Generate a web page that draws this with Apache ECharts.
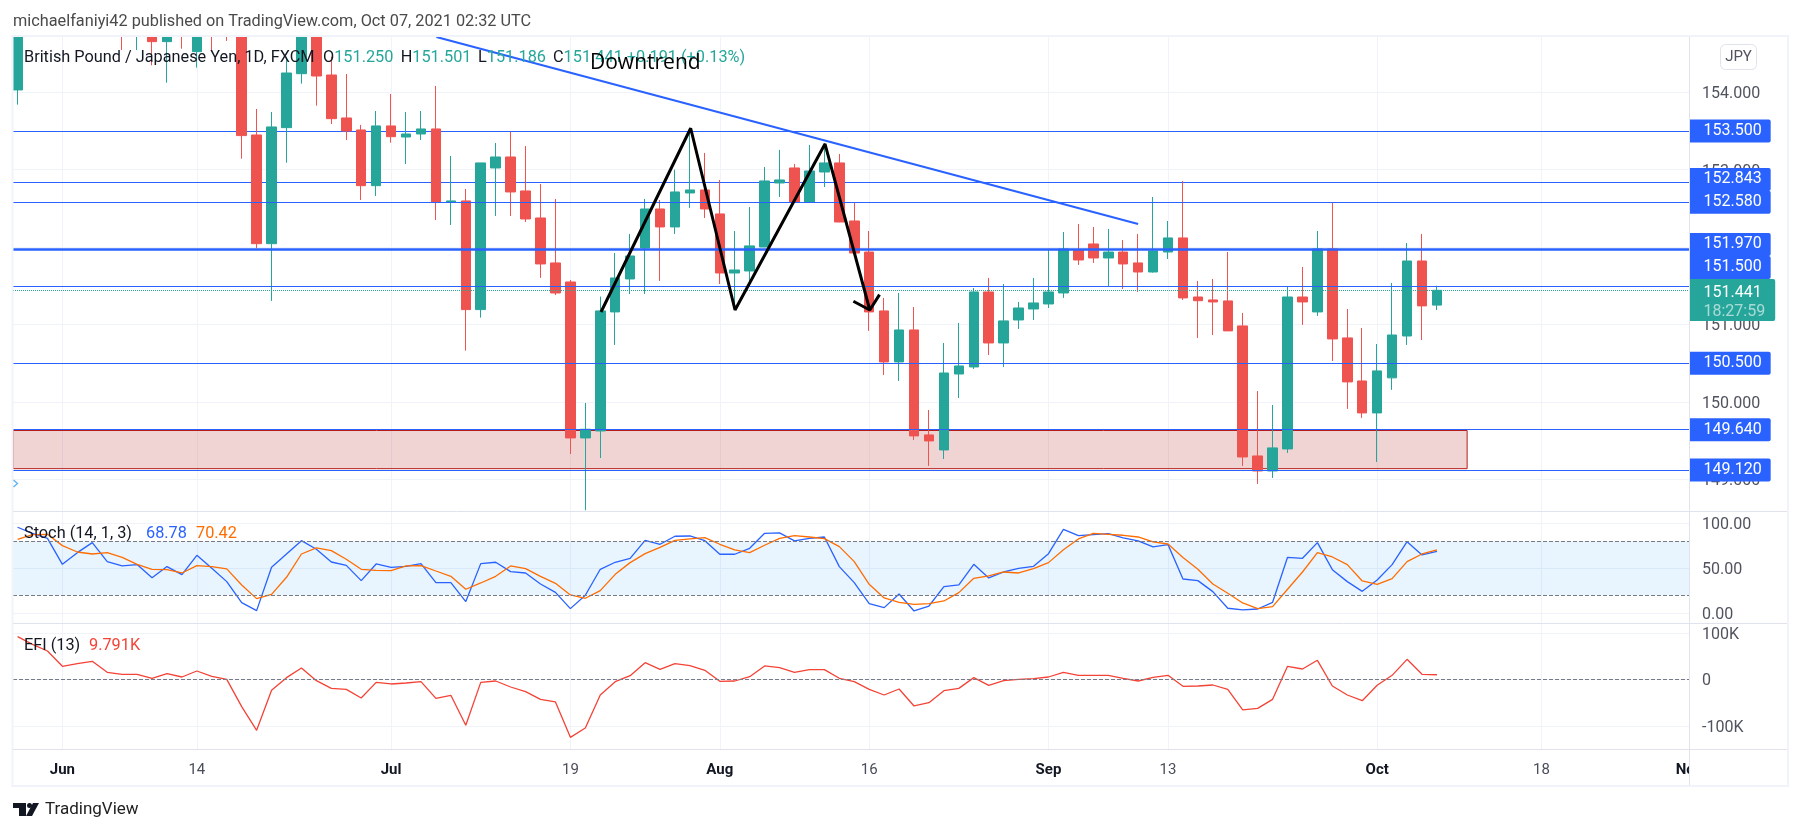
<!DOCTYPE html>
<html>
<head>
<meta charset="utf-8">
<style>html,body{margin:0;background:#fff}</style>
</head>
<body>
<div id="main" style="width:1801px;height:833px;"></div>
<script src="https://cdn.jsdelivr.net/npm/echarts@6/dist/echarts.min.js"></script>
<script>
// daily bars, index 0 = 27 May 2021, last = 7 Oct 2021
var opens = [154.03,155.1,155.0,155.1,155.0,155.1,155.0,155.1,154.9,154.85,
154.654,154.95,154.525,154.95,154.95,155.0,153.448,152.044,153.543,154.24,
155.0,154.223,153.668,153.513,152.793,153.565,153.422,153.461,153.526,152.583,
152.596,151.192,153.022,153.164,152.725,152.376,151.795,151.549,149.534,149.624,
151.162,151.588,151.988,152.492,152.26,152.699,152.738,152.428,151.665,151.691,
152.001,152.828,153.022,152.583,152.97,153.087,152.337,151.936,151.175,150.516,
150.929,149.573,149.379,150.36,150.451,151.42,150.761,151.058,151.2,151.265,
151.407,151.962,152.04,151.859,151.936,151.795,151.678,151.936,152.118,151.355,
151.317,151.304,150.981,149.301,149.107,149.392,151.355,151.162,151.975,150.826,
150.27,149.857,150.31,150.851,151.82,151.25];
var closes = [155.0,154.9,155.2,154.9,155.2,154.9,155.2,154.9,155.1,154.654,
154.85,154.8,154.9,154.8,154.8,153.44,152.044,153.552,154.249,155.0,
154.21,153.659,153.5,152.793,153.565,153.426,153.461,153.526,152.583,152.596,
151.192,153.087,153.164,152.712,152.363,151.782,151.407,149.534,149.646,151.175,
151.601,151.885,152.492,152.26,152.712,152.738,152.492,151.665,151.704,152.015,
152.854,152.867,152.583,152.983,153.087,152.324,151.923,151.162,150.516,150.929,
149.56,149.495,150.373,150.464,151.42,150.761,151.046,151.213,151.278,151.42,
151.975,151.833,151.859,151.936,151.782,151.678,151.95,152.118,151.343,151.307,
151.291,150.917,149.288,149.107,149.405,151.355,151.291,151.975,150.813,150.258,
149.857,150.4,150.864,151.82,151.24,151.441];
var lows = [153.84,154.8,154.9,154.8,154.9,154.8,154.9,154.546,154.546,154.349,
154.124,154.563,154.318,154.525,154.663,153.142,151.985,151.304,153.09,154.111,
153.827,153.59,153.384,152.608,152.66,153.349,153.074,153.384,152.35,152.285,
150.662,151.088,152.402,152.402,152.324,151.601,151.38,149.327,148.6,149.275,
150.735,151.394,151.394,151.562,152.17,152.505,152.376,151.523,151.2,151.497,
152.0,152.647,152.58,152.58,152.776,152.32,151.92,150.917,150.348,150.27,
149.508,149.172,149.262,150.05,150.425,150.606,150.451,150.942,151.058,151.213,
151.343,151.769,151.795,151.497,151.458,151.42,151.67,151.846,151.317,150.826,
150.864,150.917,149.172,148.94,149.017,149.34,150.994,151.11,150.528,149.91,
149.793,149.224,150.155,150.735,150.8,151.186];
var highs = [155.2,155.3,155.3,155.3,155.3,155.3,155.3,155.2,155.2,155.0,
155.0,155.0,155.0,155.0,155.0,155.1,153.784,153.745,154.46,155.1,
155.1,154.46,154.236,153.578,153.758,153.978,153.745,153.758,154.081,153.177,
152.751,153.087,153.345,153.487,153.306,152.815,152.622,151.575,149.986,151.36,
151.923,152.17,152.622,152.608,153.0,153.539,153.216,152.867,152.208,152.518,
153.035,153.255,153.074,153.319,153.345,153.203,152.569,152.208,151.343,151.407,
151.226,149.895,150.761,151.02,151.471,151.601,151.523,151.291,151.601,151.96,
152.195,152.298,152.26,152.234,152.092,152.17,152.647,152.337,152.854,151.562,
151.588,151.936,151.149,150.14,149.96,151.484,151.743,152.208,152.58,151.2,
150.955,150.748,151.536,152.053,152.17,151.501];

var stochK = [95.6,88.9,83.3,54.4,67.4,78.5,57.4,52.6,54.1,39.6,
51.9,43,64.4,50,35.2,11.9,3,51.1,65.9,80.7,
71.1,57,53.3,36.3,54.8,51.1,52.2,55.2,34.1,34.1,
13,55.2,56.7,46.3,44.8,32.6,23.3,5.2,20,48.9,
56.7,61.1,81.1,76.7,85.6,85.9,80.7,65.6,65.6,72.2,
88.9,89.3,80.4,83.3,84.8,51.9,34.1,10.7,6.3,21.5,
2.6,8.1,29.6,31.5,54.4,39.3,45.9,50,52.2,66.3,
93.3,86.3,87.4,88.5,83.7,80.4,73.7,76.3,38.1,36.3,
24.1,5.6,3.7,4.8,12.2,62.2,61.1,78.5,48.5,35.2,
24.4,37,54.1,79.6,64.8,68.78];
var stochD = [82.2,87.4,87.8,75.2,68.1,65.9,67.4,62.2,54.4,48.9,
48.5,44.8,53,51.9,49.3,31.5,16.3,21.1,40,65.9,
72.6,69.6,60,48.9,47.8,47.4,52.6,53,47,41.1,
26.7,33.7,41.1,52.6,49.6,41.1,33.3,20.4,16.7,25.2,
43.3,56.3,66.3,73.3,81.1,82.6,84.1,76.7,70.4,67.4,
75.6,83.3,86.3,84.8,83,74.1,57.4,32.2,17,12.2,
10,10.7,13.7,23,38.9,41.5,45.9,44.8,49.6,56.3,
70.7,82.6,88.9,87.8,86.7,84.8,79.3,77,61.9,48.9,
32.6,22.2,11.5,5.2,7.4,26.7,45.9,67.4,62.6,54.1,
35.9,32.2,38.5,57.4,65.9,70.42];
var efi = [91.8,75.3,60.9,28,33.7,38.7,15.1,10.8,10.8,2.2,
12.2,5,17.9,6.5,0,-58.8,-109.7,-23.7,3.6,24.4,
-2.9,-19.4,-21.5,-40.1,-6.5,-10,-7.9,-5,-40.9,-34.4,
-98.9,-6.5,-3.6,-16.5,-26.5,-43,-48.7,-124.7,-104.7,-33.7,
-5,7.9,35.8,21.5,33.7,29.4,19.4,-4.3,-3.6,5.7,
28.7,25.1,15.1,20.8,20.8,2.2,-5,-21.5,-33.7,-20.8,
-57.3,-50.2,-24.4,-19.4,3.6,-12.9,-2.9,0,1.4,5,
15.1,8.6,8.6,8.6,2.2,-3.6,4.3,8.6,-15.1,-14.3,
-12.2,-21.5,-65.9,-62.4,-43,28,22.2,40.9,-14.3,-33.7,
-45.9,-12.9,8.6,43,10.8,9.791];

var levelsBehind = [153.5, 152.843];
var levelsFront = [152.58, 151.97, 151.5, 150.5, 149.64, 149.12];
var lastPrice = 151.441;
var countdown = '18:27:59';
var zoneTop = 149.63, zoneBottom = 149.137, zoneEnd = 97.02;

var xMin = -0.3066, xMax = 111.87;
var xTicks = [3, 12, 25, 37, 47, 57, 69, 77, 91, 102, xMax];
var xTickLabels = ['Jun', '14', 'Jul', '19', 'Aug', '16', 'Sep', '13', 'Oct', '18', 'Nov'];
var monthLabels = ['Jun', 'Jul', 'Aug', 'Sep', 'Oct', 'Nov'];
var priceTicks = [149, 150, 151, 152, 153, 154];
var stochTicks = [0, 50, 100];
var efiTicks = [-100, 0, 100];

var trendLine = [[28.03, 154.714], [75, 152.298]];
var zigzag = [[39.05, 151.161], [45.05, 153.535], [48.02, 151.187], [54.04, 153.332], [57.04, 151.187]];
var arrowHead = [[55.94, 151.3], [57.04, 151.187], [57.69, 151.385]];

var BLUE = '#2962ff', UP = '#26a69a', DOWN = '#ef5350', ORANGE = '#ff6d00', EFI_RED = '#f44336', GRID = '#f0f3fa', EDGE = '#e0e3eb';
var FONT = 'Roboto';
var LEGEND_SIZE = 16.3;

// small tag shifts where the price scale pushes labels apart
var tagShift = { '152.843': -2.4, '151.97': -5, '151.5': -18.3 };

var myChart = echarts.init(document.getElementById('main'));

function xAxisFor(gridIndex, showLabels) {
    return {
        type: 'value', gridIndex: gridIndex, min: xMin, max: xMax, position: 'bottom',
        axisLine: { show: false },
        axisTick: { show: false, customValues: xTicks },
        splitLine: { show: true, lineStyle: { color: GRID, width: 1 } },
        axisLabel: {
            show: showLabels, customValues: xTicks, margin: 14, fontFamily: FONT, fontSize: 15, color: '#4a4e59',
            formatter: function (value) {
                var label = xTickLabels[xTicks.indexOf(value)];
                return monthLabels.indexOf(label) >= 0 ? '{m|' + label + '}' : label;
            },
            rich: { m: { fontFamily: FONT, fontSize: 15, fontWeight: 'bold', color: '#131722' } }
        }
    };
}

function yAxisFor(gridIndex, min, max, ticks, format) {
    return {
        type: 'value', gridIndex: gridIndex, min: min, max: max, position: 'right',
        axisLine: { show: false },
        axisTick: { show: false, customValues: ticks },
        splitLine: { show: true, lineStyle: { color: GRID, width: 1 } },
        axisLabel: {
            customValues: ticks, margin: 13,
            // empty first row nudges the text a little below its tick
            formatter: function (v) { return '{s| }\n{v|' + format(v) + '}'; },
            rich: {
                s: { fontSize: 1, lineHeight: 4 },
                v: { fontFamily: FONT, fontSize: 16, lineHeight: 19, color: '#50535e' }
            }
        }
    };
}

function indexed(values) {
    return values.map(function (v, i) { return [i, v]; });
}

function plainLine(name, x, y, data, color, width, z) {
    return {
        name: name, type: 'line', xAxisIndex: x, yAxisIndex: y, data: data, showSymbol: false, symbol: 'none',
        lineStyle: { color: color, width: width }, z: z, silent: true
    };
}

function dashed(values) {
    return {
        silent: true, symbol: 'none', label: { show: false },
        lineStyle: { color: '#787b86', type: 'dashed', width: 1, opacity: 1 },
        data: values.map(function (v) { return { yAxis: v }; })
    };
}

function levelLine(values, z) {
    return {
        silent: true, symbol: 'none', z: z, label: { show: false },
        lineStyle: { color: BLUE, type: 'solid', width: 1.2, opacity: 1 },
        data: values.map(function (v) {
            return { yAxis: v, lineStyle: { color: BLUE, type: 'solid', opacity: 1, width: v === 151.97 ? 2.5 : 1.2 } };
        })
    };
}

function legend(left, top, text, color) {
    return {
        text: text, left: left, top: top, padding: 0, z: 20,
        textStyle: { fontFamily: FONT, fontWeight: 'normal', fontSize: LEGEND_SIZE, color: color }
    };
}

function ohlc(left, letter, value) {
    return {
        text: '{n|' + letter + '}{v|' + value + '}', left: left, top: 50, padding: 0, z: 20,
        textStyle: { rich: {
            n: { fontFamily: FONT, fontWeight: 'normal', fontSize: LEGEND_SIZE, color: '#131722' },
            v: { fontFamily: FONT, fontWeight: 'normal', fontSize: LEGEND_SIZE, color: UP }
        } }
    };
}

var candleData = opens.map(function (o, i) {
    return [i, o, closes[i], lows[i], highs[i]];
});

var tagData = levelsBehind.concat(levelsFront).map(function (v) {
    return {
        value: [xMax, v],
        label: { offset: [0, tagShift[String(v)] || 0], formatter: v.toFixed(3) }
    };
});
tagData.push({
    value: [xMax, lastPrice],
    label: {
        backgroundColor: UP, offset: [0, 9.7], padding: [4, 10, 0, 14],
        formatter: '{a|' + lastPrice.toFixed(3) + '}\n{b|' + countdown + '}',
        rich: {
            a: { color: '#fff', fontFamily: FONT, fontSize: 16, lineHeight: 19 },
            b: { color: 'rgba(255,255,255,0.6)', fontFamily: FONT, fontSize: 16, lineHeight: 19 }
        }
    }
});

option = {
    animation: false,
    backgroundColor: '#fff',
    grid: [
        { left: 13, right: 112, top: 37, height: 474 },
        { left: 13, right: 112, top: 511, height: 112 },
        { left: 13, right: 112, top: 623, height: 126 }
    ],
    xAxis: [xAxisFor(0, false), xAxisFor(1, false), xAxisFor(2, true)],
    yAxis: [
        yAxisFor(0, 148.59, 154.714, priceTicks, function (v) { return v.toFixed(3); }),
        yAxisFor(1, -10.78, 113.67, stochTicks, function (v) { return v.toFixed(2); }),
        yAxisFor(2, -149.8, 121.1, efiTicks, function (v) { return v === 0 ? '0' : v + 'K'; })
    ],
    title: [
        legend(13, 14, 'michaelfaniyi42 published on TradingView.com, Oct 07, 2021 02:32 UTC', '#4a4a4a'),
        legend(24, 50, 'British Pound / Japanese Yen, 1D, FXCM', '#131722'),
        ohlc(323, 'O', '151.250'),
        ohlc(400.7, 'H', '151.501'),
        ohlc(478, 'L', '151.186'),
        ohlc(553, 'C', '151.441 +0.191 (+0.13%)'),
        { text: 'Downtrend', left: 590, top: 53, padding: 0, z: 20,
          textStyle: { fontFamily: 'Open Sans', fontWeight: 'normal', fontSize: 21, color: '#000' } },
        legend(24, 526, 'Stoch (14, 1, 3)', '#131722'),
        legend(146, 526, '68.78', BLUE),
        legend(196, 526, '70.42', ORANGE),
        legend(24, 638, 'EFI (13)', '#131722'),
        legend(89, 638, '9.791K', EFI_RED),
        { text: 'TradingView', left: 45, top: 801, padding: 0,
          textStyle: { fontFamily: FONT, fontWeight: 'normal', fontSize: 17, color: '#222' } }
    ],
    series: [
        {
            name: 'behind', type: 'line', xAxisIndex: 0, yAxisIndex: 0, data: [], z: 1,
            markLine: levelLine(levelsBehind, 1),
            markArea: {
                silent: true, z: 1,
                itemStyle: { color: 'rgba(178,34,34,0.2)', borderColor: '#b71c1c', borderWidth: 1 },
                data: [[{ xAxis: xMin, yAxis: zoneTop }, { xAxis: zoneEnd, yAxis: zoneBottom }]]
            }
        },
        {
            name: 'GBPJPY', type: 'candlestick', xAxisIndex: 0, yAxisIndex: 0, barWidth: 10, z: 2, silent: true,
            data: candleData,
            itemStyle: { color: UP, color0: DOWN, borderColor: UP, borderColor0: DOWN, borderWidth: 1 }
        },
        {
            name: 'tags', type: 'scatter', xAxisIndex: 0, yAxisIndex: 0, symbolSize: 1, clip: false, z: 8, silent: true,
            itemStyle: { color: 'transparent', opacity: 1 },
            data: tagData,
            label: {
                show: true, position: 'right', distance: 0, backgroundColor: BLUE, color: '#fff', opacity: 1,
                fontFamily: FONT, fontSize: 16, lineHeight: 23, padding: [0, 9, 0, 14], borderRadius: [0, 2, 2, 0]
            },
            markLine: {
                silent: true, symbol: 'none', z: 5, label: { show: false },
                data: levelLine(levelsFront, 5).data.concat([
                    { yAxis: lastPrice, lineStyle: { color: UP, type: 'dotted', width: 1, opacity: 1 } }
                ])
            }
        },
        plainLine('trend', 0, 0, trendLine, BLUE, 2, 6),
        plainLine('zigzag', 0, 0, zigzag, '#000', 3, 7),
        plainLine('arrow', 0, 0, arrowHead, '#000', 3, 7),
        {
            name: '%K', type: 'line', xAxisIndex: 1, yAxisIndex: 1, data: indexed(stochK), showSymbol: false, silent: true,
            lineStyle: { color: BLUE, width: 1.3 }, z: 3,
            markLine: dashed([80, 20]),
            markArea: {
                silent: true, z: 1, itemStyle: { color: 'rgba(33,150,243,0.1)' },
                data: [[{ xAxis: xMin, yAxis: 80 }, { xAxis: xMax, yAxis: 20 }]]
            }
        },
        plainLine('%D', 1, 1, indexed(stochD), ORANGE, 1.3, 4),
        {
            name: 'EFI', type: 'line', xAxisIndex: 2, yAxisIndex: 2, data: indexed(efi), showSymbol: false, silent: true,
            lineStyle: { color: EFI_RED, width: 1.3 }, z: 3,
            markLine: dashed([0])
        }
    ],
    graphic: [
        // candle bodies running past the top of the pane
        { type: 'rect', z: 3, silent: true, shape: { x: 0, y: 0, width: 1801, height: 36 }, style: { fill: '#fff' } },
        // mask for the clipped Nov label
        { type: 'rect', z: 50, silent: true, shape: { x: 1690, y: 751, width: 97, height: 34 }, style: { fill: '#fff' } },
        { type: 'rect', z: 51, silent: true, shape: { x: 12.5, y: 36, width: 1775.5, height: 750 }, style: { fill: 'none', stroke: GRID, lineWidth: 2 } },
        { type: 'line', z: 51, silent: true, shape: { x1: 13, y1: 511.5, x2: 1787, y2: 511.5 }, style: { stroke: EDGE, lineWidth: 1 } },
        { type: 'line', z: 51, silent: true, shape: { x1: 13, y1: 623.5, x2: 1787, y2: 623.5 }, style: { stroke: EDGE, lineWidth: 1 } },
        { type: 'line', z: 51, silent: true, shape: { x1: 13, y1: 749.5, x2: 1787, y2: 749.5 }, style: { stroke: EDGE, lineWidth: 1 } },
        { type: 'line', z: 51, silent: true, shape: { x1: 1689.5, y1: 37, x2: 1689.5, y2: 785 }, style: { stroke: EDGE, lineWidth: 1 } },
        { type: 'rect', z: 52, silent: true, shape: { x: 1720.5, y: 44.5, width: 36, height: 25, r: 5 }, style: { fill: '#fff', stroke: EDGE, lineWidth: 1 } },
        { type: 'text', z: 53, silent: true, x: 1738.5, y: 57, style: { text: 'JPY', fontFamily: FONT, fontSize: 15, fill: '#50535e', align: 'center', verticalAlign: 'middle' } },
        { type: 'polyline', z: 53, silent: true, shape: { points: [[13.5, 480], [17.5, 483.5], [13.5, 487]] }, style: { stroke: '#5fb0f5', fill: 'none', lineWidth: 1.3 } },
        // TradingView logo
        { type: 'polygon', z: 53, silent: true, shape: { points: [[13, 803], [26, 803], [26, 816], [19, 816], [19, 808], [13, 808]] }, style: { fill: '#131722' } },
        { type: 'circle', z: 53, silent: true, shape: { cx: 29.5, cy: 805.5, r: 2.5 }, style: { fill: '#131722' } },
        { type: 'polygon', z: 53, silent: true, shape: { points: [[33, 803], [39, 803], [32, 816], [26, 816]] }, style: { fill: '#131722' } }
    ]
};
myChart.setOption(option);
</script>
</body>
</html>
